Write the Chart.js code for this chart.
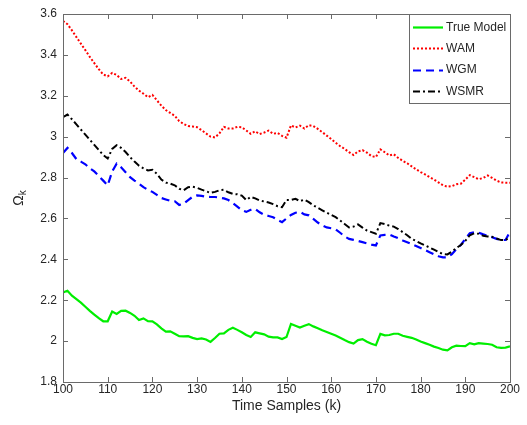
<!DOCTYPE html>
<html>
<head>
<meta charset="utf-8">
<script src="https://cdn.jsdelivr.net/npm/chart.js@4.4.1/dist/chart.umd.min.js"></script>
<style>
    html, body { margin: 0; padding: 0; background: #fff; }
    #wrap { width: 527px; height: 425px; }
</style>
</head>
<body>
<div id="wrap"><canvas id="omegaChart" width="527" height="425"></canvas></div>
<script>
// Time samples k = 100..200
const samples = Array.from({ length: 101 }, (_, i) => 100 + i);

const xTicks = [100, 110, 120, 130, 140, 150, 160, 170, 180, 190, 200];
const yTicks = [1.8, 2, 2.2, 2.4, 2.6, 2.8, 3, 3.2, 3.4, 3.6];

const seriesNames = ['True Model', 'WAM', 'WGM', 'WSMR'];

// values, one per sample (k = 100 .. 200)
const trueModel = [
    2.238, 2.246, 2.222, 2.205, 2.188, 2.168, 2.148, 2.130, 2.112, 2.097,
    2.097, 2.145, 2.133, 2.148, 2.149, 2.138, 2.124, 2.103, 2.111, 2.098,
    2.097, 2.082, 2.062, 2.046, 2.048, 2.036, 2.024, 2.023, 2.024, 2.016,
    2.010, 2.013, 2.008, 1.996, 2.015, 2.036, 2.038, 2.055, 2.065, 2.055,
    2.043, 2.030, 2.020, 2.043, 2.038, 2.033, 2.022, 2.018, 2.018, 2.010,
    2.020, 2.084, 2.075, 2.066, 2.075, 2.083, 2.072, 2.063, 2.053, 2.045,
    2.036, 2.027, 2.016, 2.005, 1.995, 1.988, 2.005, 2.010, 1.997, 1.987,
    1.980, 2.035, 2.028, 2.030, 2.036, 2.036, 2.026, 2.021, 2.016, 2.008,
    1.998, 1.990, 1.982, 1.973, 1.966, 1.958, 1.955, 1.970, 1.978, 1.976,
    1.975, 1.990, 1.984, 1.990, 1.988, 1.986, 1.982, 1.970, 1.967, 1.968,
    1.974
];

const wam = [
    3.566, 3.550, 3.520, 3.487, 3.455, 3.423, 3.390, 3.360, 3.330, 3.304,
    3.295, 3.312, 3.302, 3.282, 3.288, 3.270, 3.245, 3.225, 3.210, 3.193,
    3.204, 3.178, 3.152, 3.130, 3.116, 3.102, 3.076, 3.062, 3.052, 3.050,
    3.046, 3.032, 3.016, 3.000, 2.996, 3.016, 3.048, 3.040, 3.040, 3.048,
    3.046, 3.030, 3.014, 3.026, 3.013, 3.020, 3.030, 3.014, 3.018, 3.004,
    2.995, 3.055, 3.045, 3.054, 3.040, 3.056, 3.052, 3.038, 3.022, 3.005,
    2.988, 2.970, 2.954, 2.940, 2.924, 2.910, 2.928, 2.934, 2.922, 2.905,
    2.900, 2.938, 2.924, 2.908, 2.914, 2.896, 2.882, 2.870, 2.855, 2.840,
    2.827, 2.815, 2.802, 2.790, 2.776, 2.762, 2.755, 2.758, 2.767, 2.770,
    2.790, 2.812, 2.802, 2.792, 2.798, 2.810, 2.798, 2.785, 2.776, 2.775,
    2.775
];

const wgm = [
    2.920, 2.945, 2.920, 2.890, 2.878, 2.865, 2.845, 2.830, 2.808, 2.785,
    2.762, 2.830, 2.868, 2.850, 2.826, 2.802, 2.785, 2.770, 2.753, 2.740,
    2.730, 2.715, 2.700, 2.693, 2.686, 2.684, 2.666, 2.672, 2.690, 2.706,
    2.713, 2.710, 2.706, 2.705, 2.705, 2.702, 2.698, 2.690, 2.675, 2.658,
    2.640, 2.632, 2.642, 2.647, 2.630, 2.618, 2.612, 2.606, 2.593, 2.582,
    2.600, 2.617, 2.628, 2.632, 2.620, 2.615, 2.598, 2.580, 2.566, 2.556,
    2.552, 2.547, 2.530, 2.512, 2.500, 2.495, 2.490, 2.484, 2.478, 2.472,
    2.468, 2.517, 2.520, 2.522, 2.512, 2.503, 2.492, 2.484, 2.475, 2.465,
    2.455, 2.445, 2.435, 2.425, 2.415, 2.410, 2.410, 2.425, 2.450, 2.470,
    2.500, 2.528, 2.532, 2.530, 2.522, 2.515, 2.508, 2.500, 2.494, 2.495,
    2.535
];

const wsmr = [
    3.095, 3.108, 3.085, 3.060, 3.035, 3.010, 2.985, 2.960, 2.935, 2.910,
    2.893, 2.940, 2.958, 2.945, 2.925, 2.900, 2.878, 2.858, 2.845, 2.835,
    2.838, 2.818, 2.790, 2.775, 2.770, 2.762, 2.745, 2.738, 2.753, 2.755,
    2.750, 2.741, 2.733, 2.725, 2.730, 2.738, 2.740, 2.728, 2.720, 2.718,
    2.712, 2.690, 2.705, 2.698, 2.688, 2.683, 2.678, 2.670, 2.660, 2.655,
    2.690, 2.690, 2.696, 2.685, 2.692, 2.680, 2.664, 2.652, 2.640, 2.628,
    2.617, 2.606, 2.590, 2.573, 2.556, 2.560, 2.571, 2.555, 2.541, 2.533,
    2.525, 2.577, 2.572, 2.565, 2.560, 2.548, 2.533, 2.518, 2.500, 2.490,
    2.478, 2.468, 2.458, 2.447, 2.436, 2.426, 2.424, 2.438, 2.455, 2.470,
    2.490, 2.518, 2.527, 2.525, 2.515, 2.512, 2.510, 2.502, 2.494, 2.494,
    2.510
];

const FONT = '"Liberation Sans", Arial, Helvetica, sans-serif';
const TEXT = '#262626';
const AXIS = '#6a6a6a';

const lineStyles = [
    { color: '#00ee00', dash: [], width: 2.2 },
    { color: '#ff0000', dash: [2, 2], width: 2 },
    { color: '#0000ff', dash: [8, 5], width: 2.2 },
    { color: '#000000', dash: [7, 3, 2, 3], width: 2 }
];

function toPoints(values) {
    return values.map((v, i) => ({ x: samples[i], y: v }));
}

const seriesValues = [trueModel, wam, wgm, wsmr];

// box round the plot with inward ticks on every side (MATLAB style)
const frameAndTicks = {
    id: 'frameAndTicks',
    afterDraw(chart) {
        const c = chart.ctx;
        const a = chart.chartArea;
        const xs = chart.scales.x, ys = chart.scales.y;
        const len = 5;
        c.save();
        c.strokeStyle = AXIS;
        c.lineWidth = 1;
        c.strokeRect(Math.round(a.left) + 0.5, Math.round(a.top) + 0.5,
            Math.round(a.right - a.left), Math.round(a.bottom - a.top));
        c.beginPath();
        xTicks.forEach(t => {
            const px = Math.round(xs.getPixelForValue(t)) + 0.5;
            c.moveTo(px, a.bottom); c.lineTo(px, a.bottom - len);
            c.moveTo(px, a.top); c.lineTo(px, a.top + len);
        });
        yTicks.forEach(t => {
            const py = Math.round(ys.getPixelForValue(t)) + 0.5;
            c.moveTo(a.left, py); c.lineTo(a.left + len, py);
            c.moveTo(a.right, py); c.lineTo(a.right - len, py);
        });
        c.stroke();

        // y axis title: Omega with subscript k, rotated
        c.translate(19, (a.top + a.bottom) / 2);
        c.rotate(-Math.PI / 2);
        c.fillStyle = TEXT;
        c.textBaseline = 'alphabetic';
        c.font = '14px ' + FONT;
        const wO = c.measureText('Ω').width;
        c.font = '10px ' + FONT;
        const wK = c.measureText('k').width;
        const x0 = -(wO + wK) / 2;
        c.font = '14px ' + FONT;
        c.fillText('Ω', x0, 4);
        c.font = '10px ' + FONT;
        c.fillText('k', x0 + wO, 7);
        c.restore();
    }
};

// legend box in the top right corner of the axes
const boxLegend = {
    id: 'boxLegend',
    afterDraw(chart) {
        const c = chart.ctx;
        const a = chart.chartArea;
        const w = 101, h = 89;
        const left = Math.round(a.right) - w, top = Math.round(a.top);
        c.save();
        c.fillStyle = '#fff';
        c.fillRect(left, top, w, h);
        c.strokeStyle = AXIS;
        c.lineWidth = 1;
        c.strokeRect(left + 0.5, top + 0.5, w, h);
        c.font = '12px ' + FONT;
        c.textBaseline = 'middle';
        seriesNames.forEach((name, i) => {
            const y = top + 13 + i * 21.3;
            const st = lineStyles[i];
            c.beginPath();
            c.setLineDash(st.dash);
            c.strokeStyle = st.color;
            c.lineWidth = st.width;
            c.moveTo(left + 4, Math.round(y) + 0.5);
            c.lineTo(left + 34, Math.round(y) + 0.5);
            c.stroke();
            c.setLineDash([]);
            c.fillStyle = TEXT;
            c.fillText(name, left + 37, y + 0.5);
        });
        c.restore();
    }
};

const ctx = document.getElementById('omegaChart').getContext('2d');
const omegaChart = new Chart(ctx, {
    type: 'line',
    data: {
        datasets: seriesNames.map((name, i) => ({
            label: name,
            data: toPoints(seriesValues[i]),
            borderColor: lineStyles[i].color,
            borderDash: lineStyles[i].dash,
            borderWidth: lineStyles[i].width,
            borderCapStyle: 'butt',
            pointRadius: 0,
            tension: 0,
            fill: false,
            order: seriesNames.length - i
        }))
    },
    options: {
        responsive: false,
        animation: false,
        events: [],
        layout: { padding: { left: 0, top: 14, right: 17, bottom: 0 } },
        plugins: {
            legend: { display: false },
            tooltip: { enabled: false }
        },
        scales: {
            x: {
                type: 'linear',
                min: 100,
                max: 200,
                afterFit(scale) { scale.height = 43; },
                afterBuildTicks(scale) { scale.ticks = xTicks.map(v => ({ value: v })); },
                grid: { display: false, drawTicks: false },
                border: { display: false },
                ticks: {
                    color: TEXT,
                    font: { family: FONT, size: 12 },
                    padding: 0,
                    maxRotation: 0,
                    autoSkip: false,
                    callback: v => String(v)
                },
                title: {
                    display: true,
                    text: 'Time Samples (k)',
                    color: TEXT,
                    font: { family: FONT, size: 14 },
                    padding: { top: 0, bottom: 10 }
                }
            },
            y: {
                min: 1.8,
                max: 3.6,
                afterFit(scale) { scale.width = 63; },
                afterBuildTicks(scale) { scale.ticks = yTicks.map(v => ({ value: v })); },
                grid: { display: false, drawTicks: false },
                border: { display: false },
                ticks: {
                    color: TEXT,
                    font: { family: FONT, size: 12 },
                    padding: 6,
                    autoSkip: false,
                    callback: v => String(Math.round(v * 10) / 10)
                }
            }
        }
    },
    plugins: [frameAndTicks, boxLegend]
});
</script>
</body>
</html>
